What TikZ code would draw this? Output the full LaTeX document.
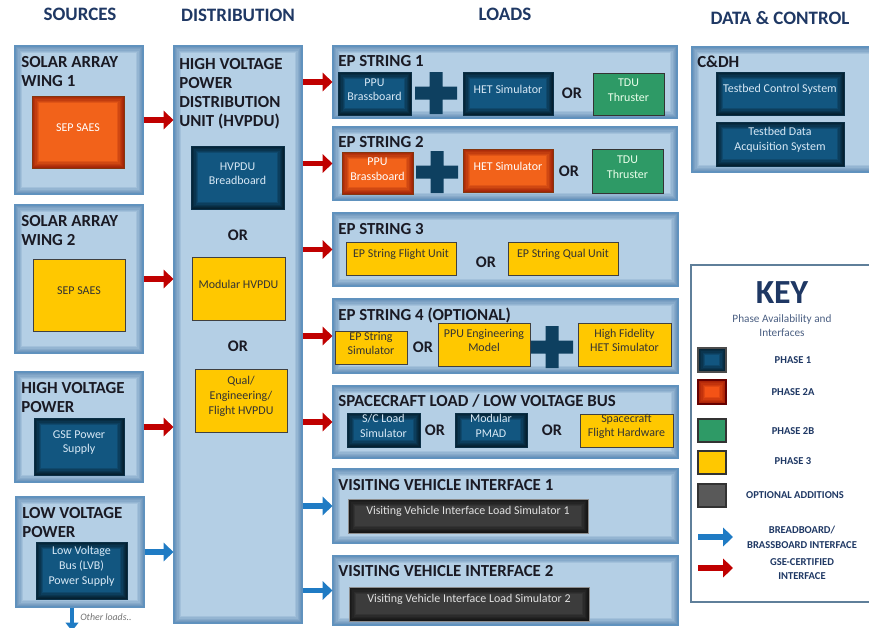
\documentclass[tikz,border=0pt]{standalone}
\usepackage{fontspec}
\setmainfont{Carlito}
\usetikzlibrary{arrows.meta, positioning, fit}
\definecolor{navyhead}{RGB}{31, 56, 100}
\definecolor{panelfill}{RGB}{180, 207, 229}
\definecolor{panelline}{RGB}{96, 146, 190}
\definecolor{panelshade}{RGB}{60, 110, 160}
\definecolor{phaseone}{RGB}{18, 86, 128}
\definecolor{phaseonetxt}{RGB}{215, 232, 245}
\definecolor{phasetwoa}{RGB}{242, 98, 26}
\definecolor{phasetwob}{RGB}{46, 154, 102}
\definecolor{phasethree}{RGB}{255, 200, 0}
\definecolor{optgrey}{RGB}{60, 60, 60}
\definecolor{plusblue}{RGB}{14, 64, 96}
\definecolor{gsered}{RGB}{192, 0, 0}
\definecolor{bbblue}{RGB}{31, 123, 196}
\definecolor{titleink}{RGB}{26, 26, 36}
\definecolor{keyline}{RGB}{95, 127, 154}

\tikzset{
  glow/.style={path picture={
    \foreach \w in {1,...,6}
      \draw[#1, opacity=0.14, line width=\w*1.6pt]
        (path picture bounding box.south west) rectangle (path picture bounding box.north east);}},
  panel/.style={draw=panelline, line width=0.8pt, fill=panelfill, glow=panelshade, inner sep=0pt},
  unitbox/.style={inner sep=0pt, align=center, line width=0.6pt, font=\fontsize{8.5}{10.5}\selectfont},
  pone/.style={unitbox, draw=phaseone!55!black, fill=phaseone, text=phaseonetxt, glow=black},
  ptwoa/.style={unitbox, draw=phasetwoa!55!black, fill=phasetwoa, text=white, glow=red!45!black},
  ptwob/.style={unitbox, draw=black!80, fill=phasetwob, text=green!8},
  pthree/.style={unitbox, draw=black!75, fill=phasethree, text=black!80},
  popt/.style={unitbox, draw=black!45, fill=optgrey, text=white!88!black, glow=black},
  coltitle/.style={font=\bfseries\fontsize{13.5}{16}\selectfont, text=navyhead},
  boxtitle/.style={anchor=base west, inner sep=0pt, align=left, text=titleink,
    font=\bfseries\fontsize{12}{13.5}\selectfont},
  ortext/.style={font=\bfseries\fontsize{11.5}{13}\selectfont, text=titleink},
  gsearrow/.style={-{Triangle[length=7pt, width=13pt]}, line width=4pt, gsered},
  bbarrow/.style={-{Triangle[length=7pt, width=13pt]}, line width=4pt, bbblue},
  keytext/.style={font=\bfseries\fontsize{7.5}{10.5}\selectfont, text=navyhead, align=center},
  keyswatch/.style={inner sep=0pt, line width=0.8pt},
  joinplus/.pic={
    \fill[plusblue] (-21,-6.5) -- (-6.5,-6.5) -- (-6.5,-21) -- (6.5,-21) -- (6.5,-6.5)
      -- (21,-6.5) -- (21,6.5) -- (6.5,6.5) -- (6.5,21) -- (-6.5,21) -- (-6.5,6.5)
      -- (-21,6.5) -- cycle;
  },
}

\begin{document}
\begin{tikzpicture}[x=0.025cm, y=-0.025cm]
    \useasboundingbox (0,0) rectangle (869,627);
    \clip (0,0) rectangle (869,627);
    \fill[white] (0,0) rectangle (869,627);

    % column headings
    \node[coltitle] (hsrc) at (80,14) {SOURCES};
    \node[coltitle] (hdist) at (238,15) {DISTRIBUTION};
    \node[coltitle] (hload) at (505,14) {LOADS};
    \node[coltitle] (hdata) at (780,18) {DATA \& CONTROL};

    % sources (multi-line titles sit on their last baseline)
    \node[panel, fit={(15,46) (143,194)}] (sw1) {};
    \node[boxtitle] (sw1t) at (21,86) {SOLAR ARRAY\\WING 1};
    \node[ptwoa, fit={(32,96) (124,168)}] (saes1) {SEP SAES};
    \node[panel, fit={(15,205) (143,353)}] (sw2) {};
    \node[boxtitle] (sw2t) at (21,245) {SOLAR ARRAY\\WING 2};
    \node[pthree, fit={(33,259) (125,331)}] (saes2) {SEP SAES};
    \node[panel, fit={(15,372) (143,482)}] (hvp) {};
    \node[boxtitle] (hvpt) at (21,412) {HIGH VOLTAGE\\POWER};
    \node[pone, fit={(34,418) (124,475)}] (gse) {GSE Power\\Supply};
    \node[panel, fit={(16,497) (144,607)}] (lvp) {};
    \node[boxtitle] (lvpt) at (22,537) {LOW VOLTAGE\\POWER};
    \node[pone, fit={(36,542) (127,599)}] (lvb) {Low Voltage\\Bus (LVB)\\Power Supply};

    % distribution
    \node[panel, fit={(174,46) (302,623)}] (hvpdu) {};
    \node[boxtitle] (hvpdut) at (179,126) {HIGH VOLTAGE\\POWER\\DISTRIBUTION\\UNIT (HVPDU)};
    \node[pone, fit={(191,146) (284,209)}] (hvbb) {HVPDU\\Breadboard};
    \node[ortext] (or1) at (238,235) {OR};
    \node[pthree, fit={(192,257) (285,320)}] (hvmod) {Modular HVPDU};
    \node[ortext] (or2) at (238,346) {OR};
    \node[pthree, fit={(195,369) (287,432)}] (hvqual) {Qual/\\Engineering/\\Flight HVPDU};

    % loads
    \node[panel, fit={(333,46) (677,118)}] (ep1) {};
    \node[boxtitle] (ep1t) at (338,66) {EP STRING 1};
    \node[pone, fit={(338,72) (411,115)}] (ppu1) {PPU\\Brassboard};
    \pic at (436,93) {joinplus};
    \node[pone, fit={(463,72) (553,115)}] (het1) {HET Simulator};
    \node[ortext] (or3) at (572,93) {OR};
    \node[ptwob, fit={(593,73) (664,115)}] (tdu1) {TDU\\Thruster};

    \node[panel, fit={(333,127) (677,200)}] (ep2) {};
    \node[boxtitle] (ep2t) at (338,147) {EP STRING 2};
    \node[ptwoa, fit={(342,152) (413,194)}] (ppu2) {PPU\\Brassboard};
    \pic at (437,172) {joinplus};
    \node[ptwoa, fit={(463,149) (553,192)}] (het2) {HET Simulator};
    \node[ortext] (or4) at (569,171) {OR};
    \node[ptwob, fit={(592,149) (663,193)}] (tdu2) {TDU\\Thruster};

    \node[panel, fit={(333,213) (678,286)}] (ep3) {};
    \node[boxtitle] (ep3t) at (338,234) {EP STRING 3};
    \node[pthree, fit={(346,242) (456,275)}] (epflt) {EP String Flight Unit};
    \node[ortext] (or5) at (486,262) {OR};
    \node[pthree, fit={(508,242) (618,275)}] (epqual) {EP String Qual Unit};

    \node[panel, fit={(333,299) (678,373)}] (ep4) {};
    \node[boxtitle] (ep4t) at (338,320) {EP STRING 4 (OPTIONAL)};
    \node[pthree, fit={(335,331) (407,364)}] (epsim) {EP String\\Simulator};
    \node[ortext] (or6) at (423,347) {OR};
    \node[pthree, fit={(438,323) (530,366)}] (ppueng) {PPU Engineering\\Model};
    \pic at (552,347) {joinplus};
    \node[pthree, fit={(578,323) (671,366)}] (hifi) {High Fidelity\\HET Simulator};

    \node[panel, fit={(333,386) (678,458)}] (scload) {};
    \node[boxtitle] (scloadt) at (338,406) {SPACECRAFT LOAD / LOW VOLTAGE BUS};
    \node[pone, fit={(347,413) (420,447)}] (scsim) {S/C Load\\Simulator};
    \node[ortext] (or7) at (435,430) {OR};
    \node[pone, fit={(455,413) (527,447)}] (pmad) {Modular\\PMAD};
    \node[ortext] (or8) at (552,430) {OR};
    \node[pthree, fit={(580,414) (673,447)}] (scflt) {Spacecraft\\Flight Hardware};

    \node[panel, fit={(333,469) (678,543)}] (vvi1) {};
    \node[boxtitle] (vvi1t) at (338,490) {VISITING VEHICLE INTERFACE 1};
    \node[popt, fit={(348,499) (588,533)}] (vvsim1) {Visiting Vehicle Interface Load Simulator 1};
    \node[panel, fit={(333,556) (678,625)}] (vvi2) {};
    \node[boxtitle] (vvi2t) at (338,576) {VISITING VEHICLE INTERFACE 2};
    \node[popt, fit={(349,587) (589,621)}] (vvsim2) {Visiting Vehicle Interface Load Simulator 2};

    % data & control
    \node[panel, fit={(692,47) (880,172)}] (cdh) {};
    \node[boxtitle] (cdht) at (697,67) {C\&DH};
    \node[pone, fit={(716,72) (844,115)}] (tcs) {Testbed Control System};
    \node[pone, fit={(716,122) (844,166)}] (tdas) {Testbed Data\\Acquisition System};

    % connectors
    \draw[gsearrow] (sw1.east) -- (hvpdu.west |- sw1.east);
    \draw[gsearrow] (sw2.east) -- (hvpdu.west |- sw2.east);
    \draw[gsearrow] (hvp.east) -- (hvpdu.west |- hvp.east);
    \draw[bbarrow] (lvp.east) -- (hvpdu.west |- lvp.east);
    \foreach \ld in {ep1, ep2, ep3, ep4, scload}
        \draw[gsearrow] (hvpdu.east |- \ld.west) -- (\ld.west);
    \foreach \ld in {vvi1, vvi2}
        \draw[bbarrow] (hvpdu.east |- \ld.west) -- (\ld.west);
    \coordinate (otherend) at (72,631);
    \draw[bbarrow, line width=2.5pt, -{Triangle[length=6pt, width=9pt]}] (lvp.south -| otherend) -- (otherend);
    \node[anchor=west, inner sep=0pt, font=\itshape\fontsize{7}{8}\selectfont, text=black!55] (otherlbl) at (80,617) {Other loads..};

    % key
    \node[draw=keyline, line width=1pt, fill=white, inner sep=0pt, fit={(691,265) (880,602)}] (key) {};
    \node[font=\bfseries\fontsize{24}{26}\selectfont, text=navyhead] (keyt) at (782,293) {KEY};
    \node[align=center, font=\fontsize{8}{10}\selectfont, text=navyhead!80] (keysub) at (782,326) {Phase Availability and\\Interfaces};
    \node[keyswatch, draw=black!70, fill=phaseone, glow=black, fit={(698,348) (726,372)}] (kp1) {};
    \node[keytext] (kp1t) at (793,360) {PHASE 1};
    \node[keyswatch, draw=red!40!black, fill=phasetwoa!85!red, glow=red!45!black, fit={(698,380) (726,404)}] (kp2a) {};
    \node[keytext] (kp2at) at (793,392) {PHASE 2A};
    \node[keyswatch, draw=black!80, fill=phasetwob, fit={(698,419) (726,442)}] (kp2b) {};
    \node[keytext] (kp2bt) at (793,431) {PHASE 2B};
    \node[keyswatch, draw=black!80, fill=phasethree, fit={(698,451) (726,474)}] (kp3) {};
    \node[keytext] (kp3t) at (793,461) {PHASE 3};
    \node[keyswatch, draw=black!80, fill=black!65, fit={(698,484) (726,507)}] (kopt) {};
    \node[keytext] (koptt) at (795,495) {OPTIONAL ADDITIONS};
    \coordinate (bbfrom) at (698,537);
    \coordinate (bbto) at (733,537);
    \draw[bbarrow] (bbfrom) -- (bbto);
    \node[keytext] (kbbt) at (802,537) {BREADBOARD/\\BRASSBOARD INTERFACE};
    \coordinate (gsefrom) at (698,568);
    \coordinate (gseto) at (733,568);
    \draw[gsearrow] (gsefrom) -- (gseto);
    \node[keytext] (kgset) at (802,569) {GSE-CERTIFIED\\INTERFACE};
\end{tikzpicture}
\end{document}
